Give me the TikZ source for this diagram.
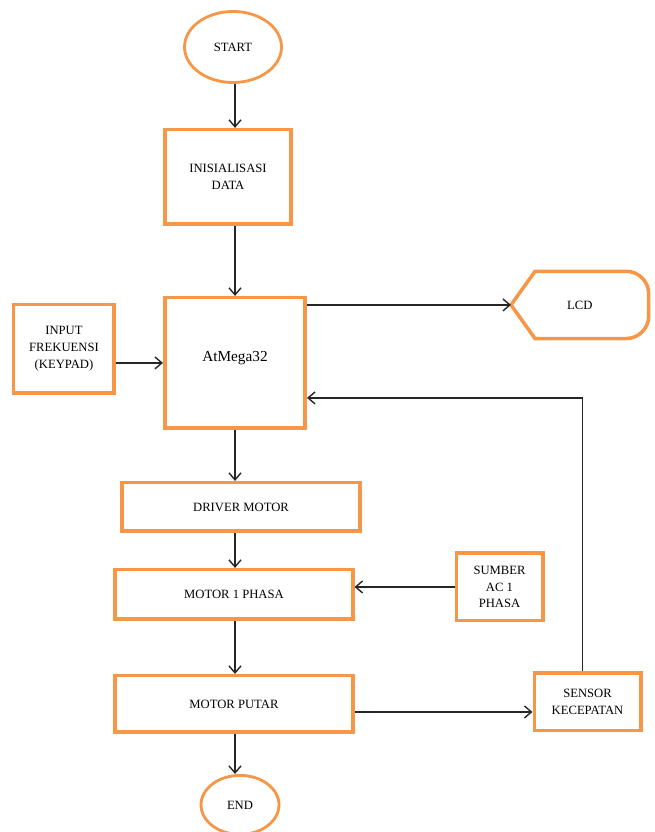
\documentclass[tikz,border=0pt]{standalone}
\usepackage{fontspec}
\setmainfont{Liberation Serif}
\usetikzlibrary{arrows.meta, positioning, shapes.geometric, calc}
\definecolor{boxorange}{RGB}{247,150,70}
\tikzstyle{block} = [draw=boxorange, line width=2pt, rectangle, align=center, font=\fontsize{7.2}{9.6}\selectfont, inner sep=2pt]
\tikzstyle{terminal} = [block, ellipse, line width=1.6pt]
\tikzstyle{flow} = [-{Straight Barb[length=1.4mm, width=2.4mm]}, line width=0.8pt, black!85]

\begin{document}
\begin{tikzpicture}
    \useasboundingbox (-4.66,0.94) rectangle (8.42,-15.70);

    % Main column.
    \node (start) [terminal, minimum width=1.94cm, minimum height=1.42cm] {START};
    \node (init) [block, below=0.88cm of start, xshift=-0.1cm, minimum width=2.53cm, minimum height=1.89cm] {INISIALISASI\\DATA};
    \node (atm) [block, below=1.4cm of init, xshift=0.14cm, minimum width=2.81cm, minimum height=2.61cm, font=\fontsize{8.7}{10}\selectfont] {\raisebox{0.24cm}{AtMega32}};
    \node (driver) [block, below=1.02cm of atm, xshift=0.12cm, minimum width=4.75cm, minimum height=0.97cm] {DRIVER MOTOR};
    \node (motor1) [block, below=0.7cm of driver, xshift=-0.14cm, minimum width=4.75cm, minimum height=0.99cm] {MOTOR 1 PHASA};
    \node (putar) [block, below=1.06cm of motor1, minimum width=4.75cm, minimum height=1.13cm] {MOTOR PUTAR};
    \node (stop) [terminal, below=0.8cm of putar, xshift=0.12cm, minimum width=1.56cm, minimum height=1.18cm] {END};

    % Side blocks.
    \node (input) [block, left=0.94cm of atm, yshift=0.28cm, minimum width=2.01cm, minimum height=1.77cm] {INPUT\\FREKUENSI\\(KEYPAD)};
    \node (lcd) [right=4.08cm of atm, yshift=1.16cm, minimum width=2.74cm, minimum height=1.33cm, font=\fontsize{7.2}{9.6}\selectfont] {LCD};
    \node (sumber) [block, right=2cm of motor1, yshift=0.15cm, minimum width=1.73cm, minimum height=1.35cm] {SUMBER\\AC 1\\PHASA};
    \node (sensor) [block, right=3.56cm of putar, yshift=0.04cm, minimum width=2.13cm, minimum height=1.15cm] {SENSOR\\KECEPATAN};

    % Display outline.
    \draw [draw=boxorange, line width=2pt] (lcd.west) -- ($(lcd.north west)+(0.48,0)$)
        -- ($(lcd.north east)+(-0.45,0)$) arc [start angle=90, end angle=0, radius=0.45cm]
        -- ($(lcd.south east)+(0,0.45)$) arc [start angle=0, end angle=-90, radius=0.45cm]
        -- ($(lcd.south west)+(0.48,0)$) -- cycle;

    % Arrows.
    \foreach\i/\j in {start/init, init/atm, atm/driver, driver/motor1, motor1/putar, putar/stop} {
        \draw [flow] (\i.south -| atm) -- (\j.north -| atm);
    }
    \draw [flow] (input.east |- atm.west) -- (atm.west);
    \draw [flow] (atm.east |- lcd.west) -- (lcd.west);
    \draw [flow] (sumber.west) -- (sumber.west -| motor1.east);
    \draw [flow] ([yshift=-0.16cm]putar.east) -- ([yshift=-0.16cm]putar.east -| sensor.west);
    \draw [flow] ([xshift=-0.1cm]sensor.north) |- ([yshift=-0.7cm]atm.east);
\end{tikzpicture}
\end{document}
